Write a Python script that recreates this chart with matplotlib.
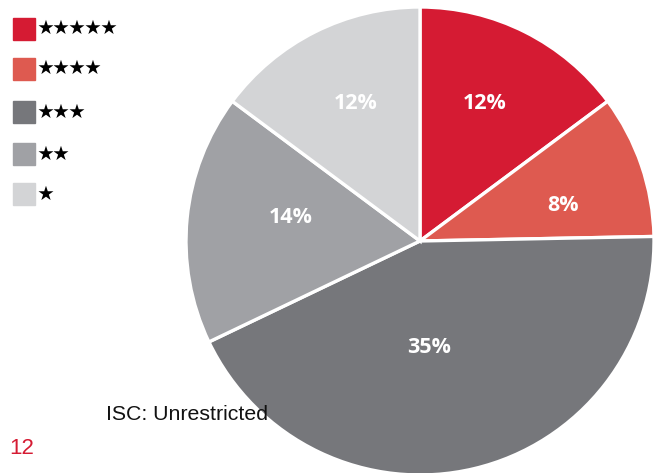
import numpy as np
import matplotlib
matplotlib.use("Agg")
from matplotlib import pyplot as plt

# rating categories (stars) and their shares as printed on the chart
ratings = ["★★★★★", "★★★★", "★★★", "★★", "★"]
shares = [12, 8, 35, 14, 12]
colors = ["#D51B33", "#DE5A50", "#76777B", "#A0A1A5", "#D3D4D6"]
# where each percentage sits: fraction of radius, degrees off the wedge middle
label_dist = [0.65, 0.63, 0.455, 0.56, 0.65]
label_turn = [1.7, -5, -8.7, -4.6, -1.7]

W, H = 654, 473
fig = plt.figure(figsize=(W / 100, H / 100), dpi=100)
ax = fig.add_axes([0, 0, 1, 1])

cx, cy, r = 420, H - 241, 234
wedges, _ = ax.pie(shares, colors=colors, startangle=90, counterclock=False,
                   center=(cx, cy), radius=r, frame=True,
                   wedgeprops=dict(edgecolor="white", linewidth=2.4))
ax.set_xlim(0, W)
ax.set_ylim(0, H)
ax.set_aspect("equal")
ax.axis("off")

# percentage labels
for w, v, d, t in zip(wedges, shares, label_dist, label_turn):
    ang = np.deg2rad((w.theta1 + w.theta2) / 2 + t)
    ax.text(cx + d * r * np.cos(ang), cy + d * r * np.sin(ang), "{}%".format(v),
            color="white", fontsize=15.5, fontweight="bold", family="Open Sans",
            ha="center", va="center")

# legend: colour square + stars
rows_y = [29, 69, 112, 154, 194]
for y, c, s in zip(rows_y, colors, ratings):
    ax.add_patch(plt.Rectangle((13, H - y - 11), 22, 22, color=c))
    ax.text(37, H - y, s, fontsize=11.5, color="black",
            family=["Noto Sans CJK SC", "DejaVu Sans"],
            ha="left", va="center")

ax.text(106, H - 414, "ISC: Unrestricted", fontsize=15.3, family="Liberation Sans",
        color="#111111", ha="left", va="center", zorder=10)
ax.text(9, H - 448, "12", fontsize=16, family="Liberation Sans",
        color="#D51B33", ha="left", va="center", zorder=10)

fig.savefig("out.png", dpi=100)
